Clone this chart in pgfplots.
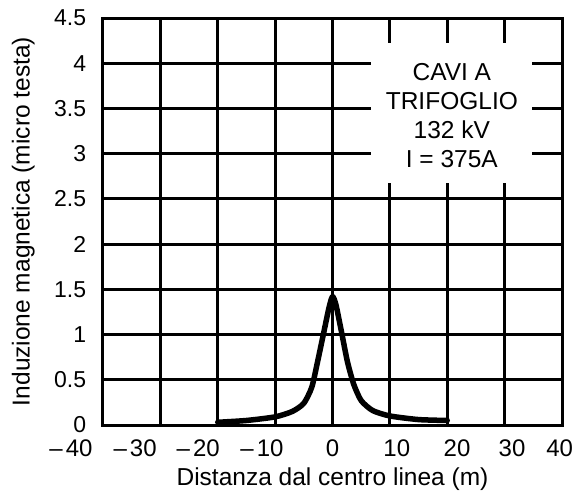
\documentclass[border=0pt]{standalone}
\usepackage{fontspec}
\setmainfont{Liberation Sans}
\usepackage{pgfplots}
\pgfplotsset{compat=1.18}
\newcommand{\negsign}{–\hspace{3bp}}
\begin{document}
\fontsize{23bp}{27bp}\selectfont
\begin{tikzpicture}
\useasboundingbox (-103bp,-66bp) rectangle (476bp,425bp);
\begin{axis}[
  scale only axis,
  width=459bp, height=407bp,
  xmin=-40, xmax=40, ymin=0, ymax=4.5,
  xtick={-40,-30,...,40},
  xticklabels={},
  extra x ticks={-40,-34.4,-23.4,-12.3,0,11.2,21.7,31.3,39.6},
  extra x tick labels={\negsign 40\hspace*{64bp},\negsign 30,\negsign 20,\negsign 10,0,10,20,30,40},
  extra x tick style={grid=none, major tick length=0pt, tick style={draw=none}},
  ytick={0,0.5,...,4.5},
  /pgf/number format/assume math mode=true,
  yticklabel style={/pgf/number format/fixed},
  xmajorgrids, ymajorgrids,
  major grid style={draw=black, line width=3bp},
  axis line style={black, line width=3bp},
  major tick length=0pt,
  tick style={draw=none},
  xticklabel style={font=\fontsize{24bp}{27bp}\selectfont, yshift=-7bp},
  yticklabel style={font=\fontsize{23bp}{27bp}\selectfont, xshift=-9bp},
  xlabel={Distanza dal centro linea (m)},
  ylabel={Induzione magnetica (micro testa)},
  label style={font=\fontsize{24.5bp}{28bp}\selectfont},
  xlabel style={yshift=5bp},
  ylabel style={yshift=4bp},
  clip=false,
]
\addplot[black, line width=5.5bp, line join=round, line cap=round, smooth, tension=0.4] coordinates {
  (-20,0.03) (-15,0.05) (-10,0.09) (-7,0.15) (-5,0.24) (-3.6,0.42) (-2.6,0.7)
  (-1.6,1.0) (-0.6,1.3) (0,1.42) (0.6,1.33) (1.6,1.02) (2.6,0.7) (3.7,0.45)
  (5,0.27) (7,0.16) (10,0.1) (15,0.06) (20,0.05)
};
\fill[white] (axis cs:6.7,2.68) rectangle (axis cs:34.7,4.22);
\node[align=center, font=\fontsize{24.5bp}{29bp}\selectfont] at (axis cs:20.8,3.42)
  {CAVI A\\TRIFOGLIO\\132 kV\\I = 375A};
\end{axis}
\end{tikzpicture}
\end{document}
